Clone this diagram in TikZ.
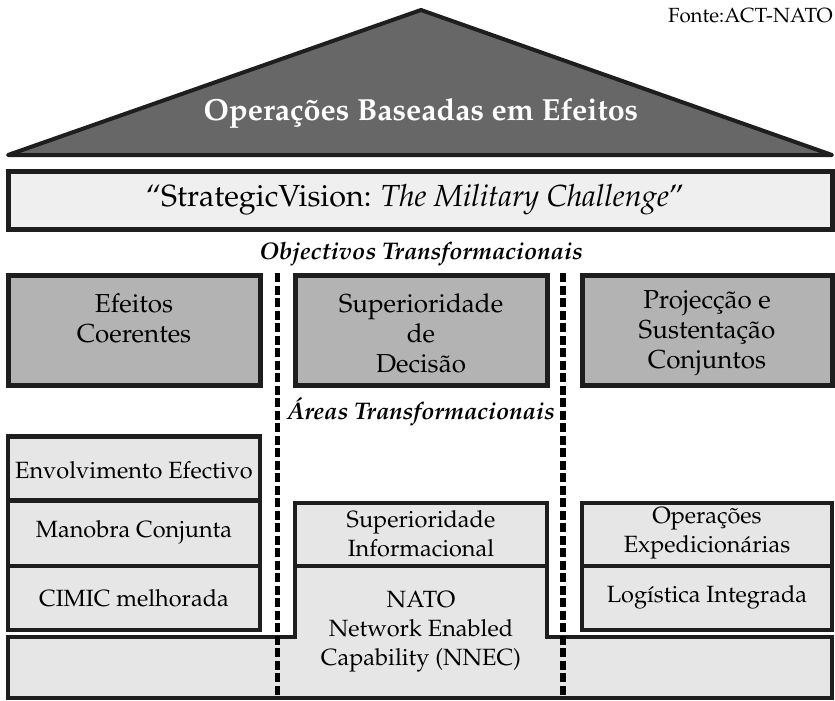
\documentclass[tikz,border=0pt]{standalone}
\usepackage[T1]{fontenc}
\usepackage{mathpazo}
\definecolor{roof}{HTML}{676767}
\definecolor{topfill}{HTML}{B3B3B3}
\definecolor{lowfill}{HTML}{E6E6E6}
\definecolor{stratfill}{HTML}{EFEFEF}
\definecolor{ink}{HTML}{1E1E1E}
\begin{document}
\begin{tikzpicture}[x=1pt,y=-1pt,
  frame/.style={draw=ink, line width=5pt, line join=miter},
  topbox/.style={frame, fill=topfill},
  lowbox/.style={draw=ink, line width=4.5pt, fill=lowfill},
  toptext/.style={align=center, inner sep=0pt, font=\fontsize{26}{30}\selectfont},
  lowtext/.style={align=center, inner sep=0pt, font=\fontsize{23.5}{29}\selectfont},
  headtext/.style={inner sep=0pt, font=\fontsize{24}{28}\bfseries\itshape\selectfont},
  divider/.style={draw=black, line width=5.5pt, dash pattern=on 9pt off 3.5pt}]
\useasboundingbox (0,0) rectangle (835,701);

% roof
\coordinate (rl) at (8,155);
\coordinate (rt) at (421,10);
\coordinate (rr) at (832,155);
\draw[draw=ink, line width=4pt, fill=roof, line join=round] (rl) -- (rt) -- (rr) -- cycle;
\node[inner sep=0pt, text=white, font=\fontsize{30.5}{35}\bfseries\selectfont] (title) at (421,113) {Operações Baseadas em Efeitos};
\node[inner sep=0pt, anchor=east, font=\fontsize{20.5}{24}\selectfont] (fonte) at (833,16) {Fonte:ACT-NATO};

% strategic vision
\node[frame, fill=stratfill, minimum width=824pt, minimum height=58pt, inner sep=0pt] (vision) at (420,200) {};
\node[inner sep=0pt, font=\fontsize{30.5}{34}\selectfont] (visiontext) at (415,200) {``StrategicVision: \textit{The Military Challenge}''};

% objectives
\node[headtext] (objlabel) at (421,254) {Objectivos Transformacionais};
\node[topbox, minimum width=252pt, minimum height=110pt, inner sep=0pt] (obj1) at (134,330) {};
\node[topbox, minimum width=252pt, minimum height=110pt, inner sep=0pt] (obj2) at (421,330) {};
\node[topbox, minimum width=250pt, minimum height=110pt, inner sep=0pt] (obj3) at (707,330) {};
\node[toptext] (obj1t) at (134,318) {Efeitos\\Coerentes};
\node[toptext] (obj2t) at (421,333) {Superioridade\\de\\Decisão};
\node[toptext] (obj3t) at (707,333) {Projecção e\\Sustentação\\Conjuntos};

% areas
\node[headtext] (arealabel) at (421,412) {Áreas Transformacionais};

% base (NNEC)
\coordinate (b1) at (8,637);
\coordinate (b2) at (295,637);
\coordinate (b3) at (295,566);
\coordinate (b4) at (547,566);
\coordinate (b5) at (547,637);
\coordinate (b6) at (832,637);
\coordinate (b7) at (832,698);
\coordinate (b8) at (8,698);
\draw[lowbox, line join=miter] (b1) -- (b2) -- (b3) -- (b4) -- (b5) -- (b6) -- (b7) -- (b8) -- cycle;
\node[lowtext] (nnec) at (421,632) {NATO\\Network Enabled\\Capability (NNEC)};

% left column
\node[lowbox, minimum width=252pt, minimum height=64pt, inner sep=0pt] (env) at (134,468.5) {};
\node[lowbox, minimum width=252pt, minimum height=65pt, inner sep=0pt] (man) at (134,533.5) {};
\node[lowbox, minimum width=252pt, minimum height=64pt, inner sep=0pt] (cim) at (134,598) {};
\node[lowtext] (envt) at (134,470) {Envolvimento Efectivo};
\node[lowtext] (mant) at (134,532) {Manobra Conjunta};
\node[lowtext] (cimt) at (134,598) {CIMIC melhorada};

% middle column
\node[lowbox, minimum width=252pt, minimum height=63pt, inner sep=0pt] (inf) at (421,534.5) {};
\node[lowtext] (inft) at (421,533.5) {Superioridade\\Informacional};

% right column
\node[lowbox, minimum width=250pt, minimum height=63pt, inner sep=0pt] (exp) at (707,534.5) {};
\node[lowbox, minimum width=250pt, minimum height=64pt, inner sep=0pt] (log) at (707,598) {};
\node[lowtext] (expt) at (707,533.5) {Operações\\Expedicionárias};
\node[lowtext] (logt) at (707,597) {Logística Integrada};

% dividers
\coordinate (d1t) at (277.5,273);
\coordinate (d1b) at (277.5,698);
\coordinate (d2t) at (563,273);
\coordinate (d2b) at (563,698);
\draw[divider] (d1t) -- (d1b);
\draw[divider] (d2t) -- (d2b);
\end{tikzpicture}
\end{document}
